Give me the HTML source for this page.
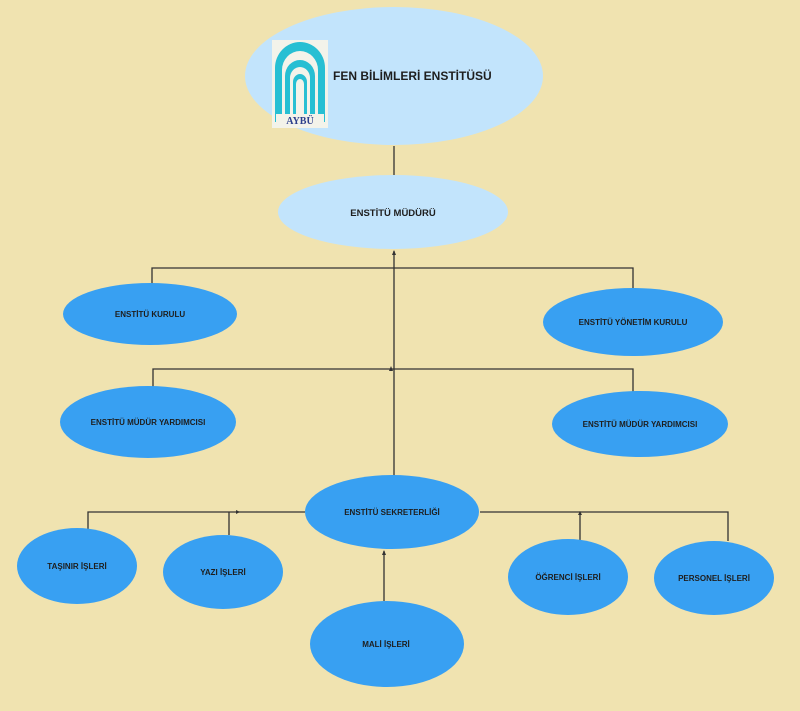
<!DOCTYPE html>
<html><head><meta charset="utf-8"><style>html,body{margin:0;padding:0;background:#f0e3b0}svg{display:block}text{font-family:"Liberation Sans",sans-serif;font-weight:bold;fill:#1e1e1e}</style></head><body>
<svg width="800" height="711" viewBox="0 0 800 711" xmlns="http://www.w3.org/2000/svg">
<rect width="800" height="711" fill="#f0e3b0"/>
<g stroke="#333" stroke-width="1.3" fill="none">
<line x1="394" y1="146" x2="394" y2="177"/>
<line x1="394" y1="251" x2="394" y2="476"/>
<polyline points="152,286 152,268 633,268 633,290"/>
<polyline points="153,388 153,369 633,369 633,392"/>
<polyline points="88,530 88,512 305,512"/>
<line x1="229" y1="512" x2="229" y2="535"/>
<polyline points="480,512 728,512 728,541"/>
<line x1="580" y1="513" x2="580" y2="540"/>
<line x1="384" y1="551" x2="384" y2="601"/>
</g>
<g fill="#333">
<polygon points="394,250 392,255 396,255"/>
<polygon points="391,366 389,371 393,371"/>
<polygon points="236,510 236,514 240,512"/>
<polygon points="580,511 578,515 582,515"/>
<polygon points="384,550 382,555 386,555"/>
</g>
<ellipse cx="394" cy="76" rx="149" ry="69" fill="#c2e4fc"/>
<g transform="translate(272,40)">
<rect x="0" y="0" width="56" height="88" fill="#f3f3ea"/>
<path d="M3,82 V28 A25,26 0 0 1 53,28 V82 H46 V30 A18,19 0 0 0 10,30 V82 Z" fill="#27bfd3"/>
<path d="M13,82 V36 A15,16 0 0 1 43,36 V82 H38 V38 A10,11 0 0 0 18,38 V82 Z" fill="#27bfd3"/>
<path d="M21,82 V42 A7,8 0 0 1 35,42 V82 H32 V44 A4,5 0 0 0 24,44 V82 Z" fill="#27bfd3"/>
<rect x="4" y="74" width="48" height="12" fill="#f3f3ea"/>
<text x="28" y="84" text-anchor="middle" font-family="Liberation Serif" font-size="10" style="fill:#2c3f8c;font-family:'Liberation Serif',serif">AYBÜ</text>
</g>
<text x="333" y="80" font-size="12">FEN BİLİMLERİ ENSTİTÜSÜ</text>
<ellipse cx="393" cy="212" rx="115" ry="37" fill="#c2e4fc"/>
<text x="393" y="216" font-size="9.5" text-anchor="middle">ENSTİTÜ MÜDÜRÜ</text>
<g fill="#38a0f2">
<ellipse cx="150" cy="314" rx="87" ry="31"/>
<ellipse cx="633" cy="322" rx="90" ry="34"/>
<ellipse cx="148" cy="422" rx="88" ry="36"/>
<ellipse cx="640" cy="424" rx="88" ry="33"/>
<ellipse cx="392" cy="512" rx="87" ry="37"/>
<ellipse cx="77" cy="566" rx="60" ry="38"/>
<ellipse cx="223" cy="572" rx="60" ry="37"/>
<ellipse cx="387" cy="644" rx="77" ry="43"/>
<ellipse cx="568" cy="577" rx="60" ry="38"/>
<ellipse cx="714" cy="578" rx="60" ry="37"/>
</g>
<g font-size="8" text-anchor="middle">
<text x="150" y="317">ENSTİTÜ KURULU</text>
<text x="633" y="325">ENSTİTÜ YÖNETİM KURULU</text>
<text x="148" y="425">ENSTİTÜ MÜDÜR YARDIMCISI</text>
<text x="640" y="427">ENSTİTÜ MÜDÜR YARDIMCISI</text>
<text x="392" y="515">ENSTİTÜ SEKRETERLİĞİ</text>
<text x="77" y="569">TAŞINIR İŞLERİ</text>
<text x="223" y="575">YAZI İŞLERİ</text>
<text x="386" y="647">MALİ İŞLERİ</text>
<text x="568" y="580">ÖĞRENCİ İŞLERİ</text>
<text x="714" y="581">PERSONEL İŞLERİ</text>
</g>
</svg>
</body></html>
